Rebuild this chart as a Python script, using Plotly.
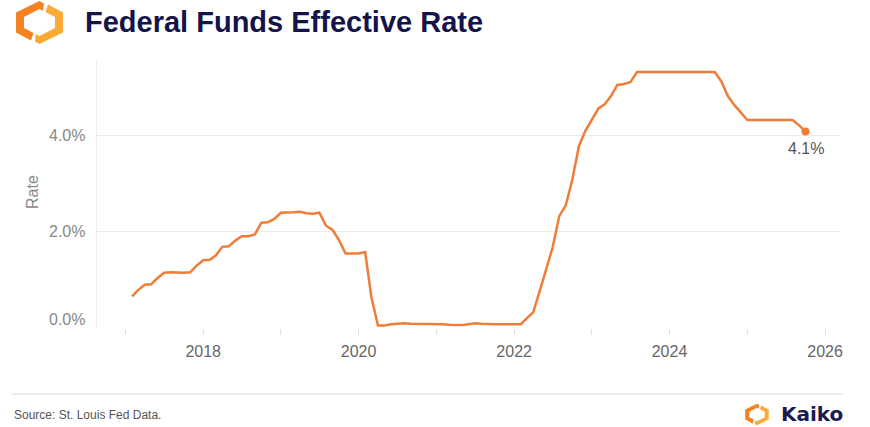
import pandas as pd
import plotly.graph_objects as go

# ---- Data (monthly Federal Funds Effective Rate, %) ----
start_month = "2017-02-01"
rates = [
    # 2017 Feb-Dec
    0.66, 0.79, 0.90, 0.91, 1.04, 1.15, 1.16, 1.15, 1.15, 1.16, 1.30,
    # 2018
    1.41, 1.42, 1.51, 1.69, 1.70, 1.82, 1.91, 1.91, 1.95, 2.19, 2.20, 2.27,
    # 2019
    2.40, 2.40, 2.41, 2.42, 2.39, 2.38, 2.40, 2.13, 2.04, 1.83, 1.55, 1.55,
    # 2020
    1.55, 1.58, 0.65, 0.05, 0.05, 0.08, 0.09, 0.10, 0.09, 0.09, 0.09, 0.09,
    # 2021
    0.09, 0.08, 0.07, 0.07, 0.06, 0.08, 0.10, 0.09, 0.08, 0.08, 0.08, 0.08,
    # 2022
    0.08, 0.08, 0.20, 0.33, 0.77, 1.21, 1.68, 2.33, 2.56, 3.08, 3.78, 4.10,
    # 2023
    4.33, 4.57, 4.65, 4.83, 5.06, 5.08, 5.12, 5.33, 5.33, 5.33, 5.33, 5.33,
    # 2024
    5.33, 5.33, 5.33, 5.33, 5.33, 5.33, 5.33, 5.33, 5.13, 4.83, 4.64, 4.48,
    # 2025 Jan-Oct
    4.33, 4.33, 4.33, 4.33, 4.33, 4.33, 4.33, 4.33, 4.22, 4.09,
]
months = pd.date_range(start_month, periods=len(rates), freq="MS")

year_ticks = list(range(2017, 2027))
year_labels = [str(y) if y % 2 == 0 else "" for y in year_ticks]
y_ticks = [0, 2, 4]
y_tick_labels = [f"{v:.1f}%" for v in y_ticks]

title_text = "Federal Funds Effective Rate"
source_text = "Source: St. Louis Fed Data."
brand_text = "Kaiko"

LINE = "#EF7D3A"

# ---- Layout geometry (page body margin removed via post_script) ----
W, H = 870, 427
PX0, PX1, PY0, PY1 = 97, 840, 60, 328
PW, PH = PX1 - PX0, PY1 - PY0
ML, MT = PX0, PY0
MR = W - PX1
MB = H - PY1


def px(xp):
    return (xp - PX0) / PW


def py(yp):
    return (PY1 - yp) / PH


def poly(points, cx, cy, s):
    pts = [(cx + s * (x - 39.5), cy + s * (y - 22.5)) for x, y in points]
    return "M " + " L ".join(f"{px(x):.5f},{py(y):.5f}" for x, y in pts) + " Z"


LOGO_LEFT = [(44, 3.5), (39.5, 1), (16, 12.5), (16, 32.5), (31, 40.5),
             (33.5, 33), (24, 28), (24, 17), (39.5, 9), (43, 11)]
LOGO_RIGHT = [(79 - x, 45 - y) for x, y in LOGO_LEFT]

fig = go.Figure()
fig.add_trace(go.Scatter(
    x=months, y=rates, mode="lines",
    line=dict(color=LINE, width=2.5),
    hoverinfo="x+y", showlegend=False,
))
fig.add_trace(go.Scatter(
    x=[months[-1]], y=[rates[-1]], mode="markers",
    marker=dict(color=LINE, size=8), showlegend=False, hoverinfo="skip",
))

shapes = []
for cx, cy, s in [(39.5, 22.5, 1.0), (757, 414.5, 0.5)]:
    shapes.append(dict(type="path", xref="paper", yref="paper",
                       path=poly(LOGO_LEFT, cx, cy, s),
                       fillcolor="#F58220", line=dict(width=0)))
    shapes.append(dict(type="path", xref="paper", yref="paper",
                       path=poly(LOGO_RIGHT, cx, cy, s),
                       fillcolor="#FBAA35", line=dict(width=0)))
shapes.append(dict(type="line", xref="paper", yref="paper",
                   x0=px(12), x1=px(843), y0=py(394), y1=py(394),
                   line=dict(color="#d9d9d9", width=1)))

annotations = [
    dict(text=title_text, xref="paper", yref="paper", x=px(83), y=py(22),
         xanchor="left", yanchor="middle", showarrow=False,
         font=dict(family="Liberation Sans, Arial", size=29, color="#14144B",
                   weight="bold")),
    dict(text="Rate", xref="paper", yref="paper", x=px(32), y=py(192),
         xanchor="center", yanchor="middle", showarrow=False, textangle=-90,
         font=dict(family="Liberation Sans, Arial", size=16, color="#8a8a8a")),
    dict(text=source_text, xref="paper", yref="paper", x=px(12), y=py(415),
         xanchor="left", yanchor="middle", showarrow=False,
         font=dict(family="Liberation Sans, Arial", size=12, color="#555555")),
    dict(text=brand_text, xref="paper", yref="paper", x=px(779), y=py(414),
         xanchor="left", yanchor="middle", showarrow=False,
         font=dict(family="DejaVu Sans", size=20, color="#1B1B4F",
                   weight="bold")),
    dict(text=f"{rates[-1]:.1f}%", x=months[-1], y=rates[-1], xref="x", yref="y",
         showarrow=False, yshift=-17, xanchor="center", yanchor="middle",
         font=dict(family="Liberation Sans, Arial", size=16, color="#555555")),
]
for v, lab in zip(y_ticks, y_tick_labels):
    annotations.append(dict(
        text=lab, xref="paper", yref="y", x=0, y=v, xshift=-10,
        yshift=9 if v == 0 else 0,
        xanchor="right", yanchor="middle", showarrow=False,
        font=dict(family="Liberation Sans, Arial", size=16, color="#888888")))

fig.update_layout(
    width=W, height=H,
    margin=dict(l=ML, r=MR, t=MT, b=MB, pad=0),
    paper_bgcolor="white", plot_bgcolor="white",
    shapes=shapes, annotations=annotations,
    showlegend=False,
    xaxis=dict(
        type="date",
        range=["2016-08-20", "2026-03-12"],
        tickvals=[f"{y}-01-01" for y in year_ticks],
        ticktext=year_labels,
        ticks="outside", ticklen=6, tickcolor="#e3e3e3", tickwidth=1,
        ticklabelstandoff=3,
        showgrid=False, zeroline=False, showline=False,
        tickfont=dict(family="Liberation Sans, Arial", size=16, color="#666666"),
    ),
    yaxis=dict(
        range=[0, 5.58],
        tickvals=y_ticks, showticklabels=False,
        showgrid=True, gridcolor="#ebebeb", gridwidth=1,
        zeroline=False, showline=True, linecolor="#ececec", linewidth=1,
        ticks="",
    ),
)

fig.write_html(
    "out.html",
    config={"displayModeBar": False},
    post_script="document.body.style.margin='0';document.body.style.overflow='hidden';",
)
